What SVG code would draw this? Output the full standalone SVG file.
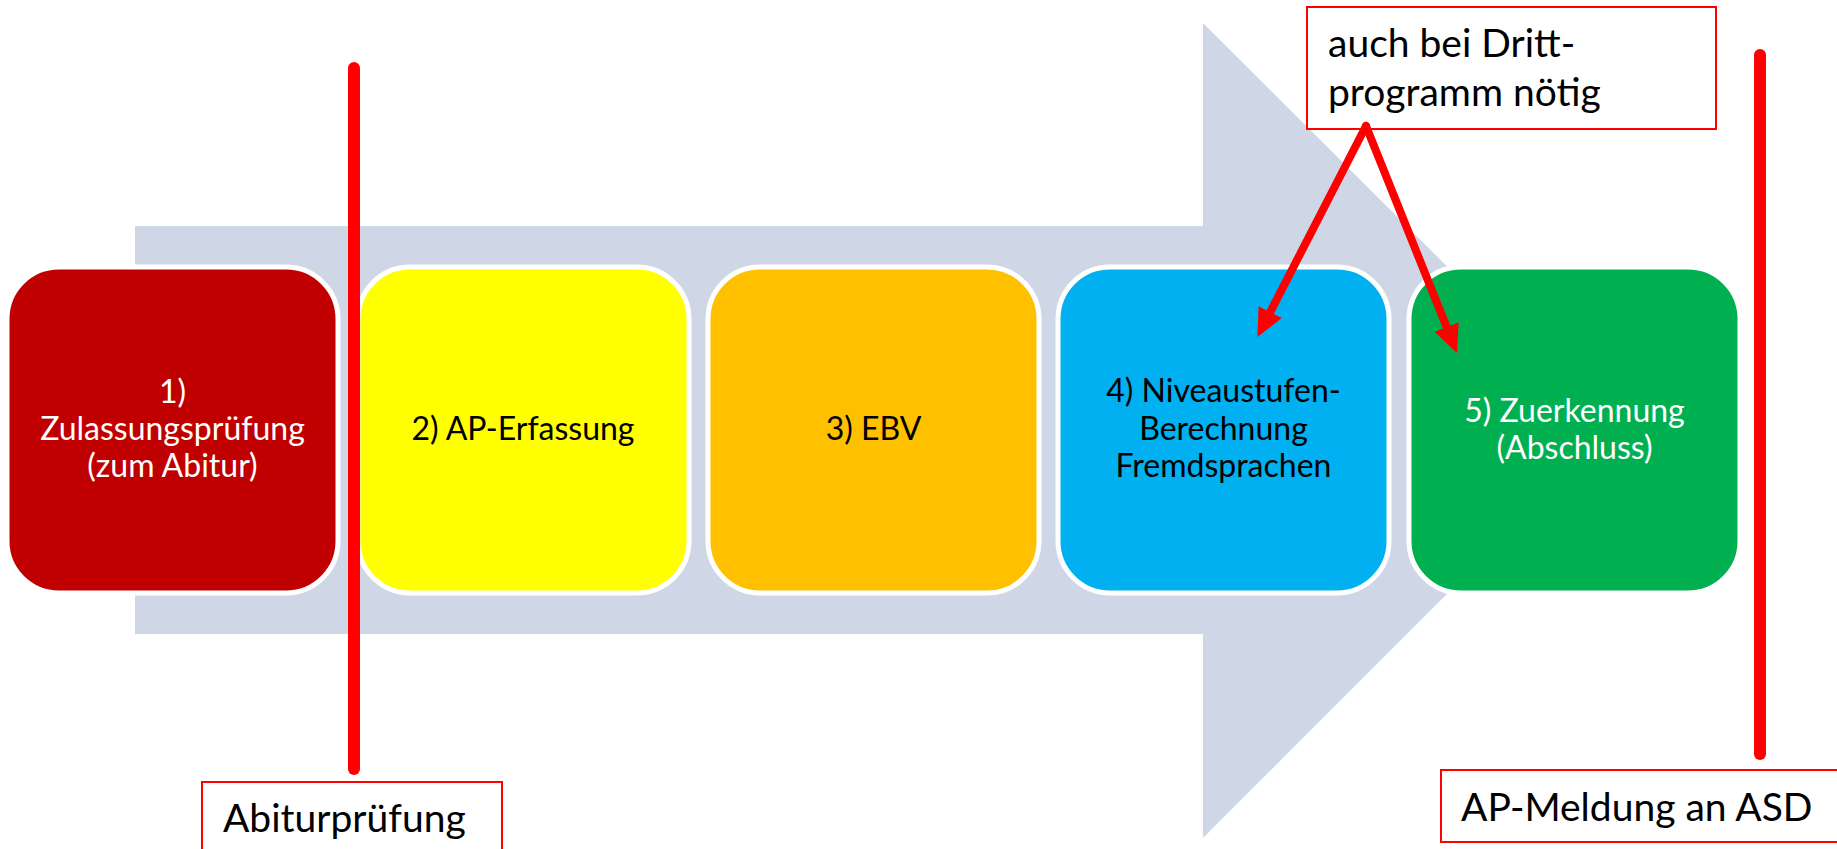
<svg xmlns="http://www.w3.org/2000/svg" width="1837" height="849" viewBox="0 0 1837 849">
  <style>
    .step { stroke: #FFFFFF; stroke-width: 5; }
    .lbl { font-family: Lato, "Liberation Sans", sans-serif; font-size: 32px; text-anchor: middle; }
    .note { font-family: Lato, "Liberation Sans", sans-serif; font-size: 39px; fill: #000000; }
    .notebox { fill: #FFFFFF; stroke: #FF0000; stroke-width: 2; }
    .bar { stroke: #FF0000; stroke-width: 12; stroke-linecap: round; fill: none; }
    .conn { stroke: #FF0000; stroke-width: 8; stroke-linecap: round; fill: none; marker-end: url(#head); }
  </style>
  <defs>
    <marker id="head" markerUnits="userSpaceOnUse" markerWidth="28" markerHeight="28" refX="0" refY="13" orient="auto" viewBox="0 0 28 26">
      <path d="M0,0 L28,13 L0,26 Z" fill="#FF0000"/>
    </marker>
  </defs>
  <rect width="1837" height="849" fill="#FFFFFF"/>

  <g id="process-arrow">
    <polygon points="135,226 1203,226 1203,23 1611,430 1203,838 1203,634 135,634" fill="#CFD6E6"/>
  </g>

  <g id="step1">
    <rect class="step" x="7" y="267" width="331" height="326" rx="52" fill="#C00000"/>
    <text class="lbl" fill="#FFFFFF" x="172.5" y="403">1)</text>
    <text class="lbl" fill="#FFFFFF" x="172.5" y="440">Zulassungsprüfung</text>
    <text class="lbl" fill="#FFFFFF" x="172.5" y="477">(zum Abitur)</text>
  </g>
  <g id="step2">
    <rect class="step" x="358" y="267" width="331" height="326" rx="52" fill="#FFFF00"/>
    <text class="lbl" fill="#000000" x="523" y="440">2) AP-Erfassung</text>
  </g>
  <g id="step3">
    <rect class="step" x="708" y="267" width="331" height="326" rx="52" fill="#FFC000"/>
    <text class="lbl" fill="#000000" x="873.5" y="440">3) EBV</text>
  </g>
  <g id="step4">
    <rect class="step" x="1058" y="267" width="331" height="326" rx="52" fill="#00B0F0"/>
    <text class="lbl" fill="#000000" x="1223.5" y="402">4) Niveaustufen-</text>
    <text class="lbl" fill="#000000" x="1223.5" y="440">Berechnung</text>
    <text class="lbl" fill="#000000" x="1223.5" y="477">Fremdsprachen</text>
  </g>
  <g id="step5">
    <rect class="step" x="1409" y="267" width="331" height="326" rx="52" fill="#00B050"/>
    <text class="lbl" fill="#FFFFFF" x="1574.5" y="422">5) Zuerkennung</text>
    <text class="lbl" fill="#FFFFFF" x="1574.5" y="459">(Abschluss)</text>
  </g>

  <g id="marker-lines">
    <line class="bar" x1="354" y1="68" x2="354" y2="769"/>
    <line class="bar" x1="1760" y1="55" x2="1760" y2="754"/>
  </g>

  <g id="note-abitur">
    <rect class="notebox" x="202" y="782" width="300" height="80"/>
    <text class="note" x="223" y="832">Abiturprüfung</text>
  </g>
  <g id="note-asd">
    <rect class="notebox" x="1441" y="770" width="410" height="72"/>
    <text class="note" x="1461" y="821">AP-Meldung an ASD</text>
  </g>
  <g id="note-dritt">
    <rect class="notebox" x="1307" y="7" width="409" height="122"/>
    <text class="note" x="1328" y="57">auch bei Dritt-</text>
    <text class="note" x="1328" y="106">programm nötig</text>
  </g>

  <g id="connectors">
    <line class="conn" x1="1366" y1="126" x2="1270.2" y2="312.1"/>
    <line class="conn" x1="1366" y1="126" x2="1446.6" y2="327.0"/>
  </g>
</svg>
